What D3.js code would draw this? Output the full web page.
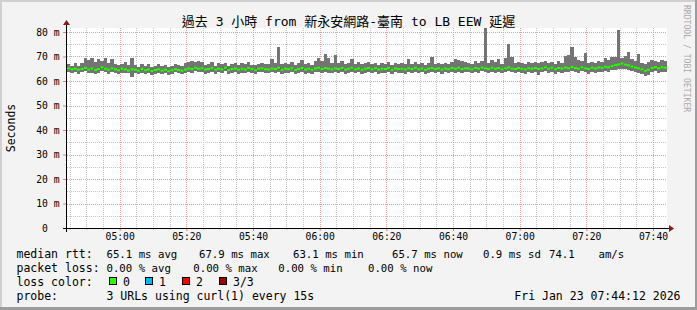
<!DOCTYPE html>
<html>
<head>
<meta charset="utf-8">
<script src="https://cdn.jsdelivr.net/npm/d3@7"></script>
<style>
body { margin: 0; background: #f3f3f3; }
svg text { font-family: "DejaVu Sans Mono", "Noto Sans CJK TC", monospace; white-space: pre; }
</style>
</head>
<body>
<div id="container"></div>
<script>
// one sample per minute, 04:44:12 -> 07:44:12
var medianRtt = [
	65.2,64.8,65.0,64.6,64.9,65.3,64.7,65.1,64.5,64.9,65.6,65.0,64.6,65.2,64.8,64.4,65.0,64.7,64.3,64.8,
	64.6,64.2,64.9,64.4,64.7,64.1,64.5,64.8,64.3,64.6,64.0,64.4,64.8,64.5,64.2,64.7,65.1,64.9,65.4,65.0,
	65.2,64.7,64.9,65.3,64.6,65.0,64.8,65.4,64.5,64.9,65.1,64.6,65.0,64.7,65.3,64.9,64.4,65.0,65.2,64.8,
	64.7,65.1,64.9,65.4,64.6,65.0,64.8,65.2,64.5,64.9,65.3,64.7,65.0,64.6,65.1,65.4,64.9,65.3,65.0,64.8,
	65.2,64.9,65.3,64.7,65.0,65.4,64.8,65.1,64.6,65.0,65.3,64.8,65.2,64.7,65.0,64.9,65.3,64.6,65.1,64.9,
	65.0,64.7,65.2,64.9,65.4,64.8,65.1,64.6,65.0,65.3,64.9,65.2,64.7,65.1,64.8,65.3,65.0,65.4,64.9,65.2,
	65.1,64.8,65.3,65.0,65.5,65.2,64.9,65.4,65.0,65.3,64.8,65.2,65.5,65.1,64.9,65.3,65.0,64.7,65.2,65.0,
	65.3,64.9,65.2,65.6,65.0,65.4,64.8,65.3,65.1,65.5,65.2,65.7,65.3,65.0,65.6,65.2,64.9,65.4,65.1,65.5,
	65.4,65.8,65.6,66.1,66.5,66.8,67.1,66.7,66.4,65.9,65.5,65.2,64.8,64.2,64.6,65.3,65.7,65.2,65.6,65.4
];
var minRtt = [
	63.6,63.2,63.8,63.0,63.5,63.9,63.1,63.4,62.9,63.3,64.0,63.5,63.0,63.6,63.2,62.8,63.4,63.1,63.3,61.8,
	63.1,62.8,63.4,62.9,63.3,62.6,63.0,63.4,62.8,63.2,62.4,63.0,63.5,63.1,62.7,63.3,63.6,63.4,63.9,63.5,
	63.7,63.0,63.4,63.8,62.9,63.5,63.2,63.9,62.8,63.3,63.6,63.0,63.4,63.1,63.8,63.4,62.7,63.5,63.7,63.2,
	63.1,63.5,63.3,63.6,62.9,63.4,63.2,63.6,62.8,63.3,63.7,63.0,63.4,62.9,63.5,63.8,63.2,63.6,63.4,63.1,
	63.6,63.3,63.7,63.0,63.4,63.8,63.2,63.5,62.9,63.4,63.7,63.1,63.6,63.0,63.4,63.3,63.7,62.9,63.5,63.3,
	63.4,63.0,63.6,63.3,63.8,63.2,63.5,62.9,63.4,63.7,63.3,63.6,63.0,63.5,63.2,63.7,63.4,63.8,63.3,63.6,
	63.5,63.2,63.7,63.4,63.9,63.6,63.3,63.8,63.4,63.7,63.1,63.6,63.9,63.5,63.2,63.7,63.4,62.8,63.6,63.3,
	63.6,62.6,63.5,63.9,63.3,63.8,62.9,63.6,63.4,63.8,63.5,63.9,63.6,63.2,63.9,63.5,62.8,63.7,63.4,63.8,
	63.7,64.0,63.8,64.3,64.6,64.9,65.1,64.8,64.4,64.0,63.6,63.3,62.7,62.0,62.6,63.5,63.9,63.4,63.8,63.6
];
var maxRtt = [
	66.8,66.2,67.5,66.0,67.2,69.2,68.4,69.5,67.8,69.0,68.2,69.3,67.5,68.8,67.0,66.5,66.9,67.8,66.4,69.4,
	66.4,65.9,66.8,66.0,67.0,65.7,66.3,66.9,66.1,66.6,65.8,66.2,67.1,66.5,66.0,67.2,67.8,68.1,67.6,68.3,
	67.9,66.6,67.0,67.6,66.3,67.3,66.8,67.4,66.2,67.1,67.5,66.5,67.2,66.9,67.8,66.7,66.4,67.0,67.3,66.9,
	66.8,69.0,67.2,74.0,66.9,67.5,67.0,67.8,66.6,67.3,68.6,66.9,67.4,66.7,68.2,69.5,68.0,71.0,69.2,67.5,
	70.5,67.4,68.0,66.9,67.5,69.0,67.0,67.6,66.8,67.2,67.9,66.9,67.5,66.7,67.3,67.0,67.8,66.6,67.4,67.1,
	67.2,66.8,69.0,67.0,67.6,66.9,67.4,66.7,67.3,70.0,67.1,67.5,66.8,67.3,67.0,67.7,69.0,68.5,68.3,67.8,
	67.5,67.0,68.2,67.4,68.0,81.5,67.3,68.4,67.6,68.8,67.0,69.2,75.0,70.0,67.2,67.8,67.4,66.9,67.6,67.2,
	67.6,67.2,67.8,68.0,67.3,67.9,67.0,68.2,67.5,70.2,70.5,74.0,70.0,68.5,68.2,71.5,67.3,67.9,67.5,68.1,
	67.8,69.2,68.5,69.8,70.0,81.0,69.5,70.2,72.0,68.9,68.0,71.0,67.4,67.0,67.6,68.5,68.2,67.9,68.6,68.3
];
var yTicks = [0, 10, 20, 30, 40, 50, 60, 70, 80];
var lossLabels = ["0", "1", "2", "3/3"];
var lossColors = ["#26ff00", "#00b8ff", "#ff0000", "#a00000"];
var rttLine = [["65.1 ms avg", 106.5], ["67.9 ms max", 199], ["63.1 ms min", 293],
	["65.7 ms now", 392], ["0.9 ms sd", 483], ["74.1", 549], ["am/s", 598.5]];
var lossLine = [["0.00 % avg", 106.5], ["0.00 % max", 193.3], ["0.00 % min", 278.3], ["0.00 % now", 368]];

var W = 697, H = 310;
var mLeft = 67, mRight = 667, mTop = 28, mBottom = 228;
var start = new Date(2026, 0, 23, 4, 44, 12);
var end = new Date(2026, 0, 23, 7, 44, 12);
var times = medianRtt.map(function(d, i) { return d3.timeMinute.offset(start, i); });

var svg = d3.select("#container").append("svg")
	.attr("width", W).attr("height", H)
	.attr("viewBox", "0 0 " + W + " " + H);

svg.append("rect").attr("width", W).attr("height", H).attr("fill", "#f3f3f3");
// frame
svg.append("rect").attr("x", 0).attr("y", 0).attr("width", W).attr("height", 2).attr("fill", "#d0d0d0");
svg.append("rect").attr("x", 0).attr("y", 0).attr("width", 2).attr("height", H).attr("fill", "#d0d0d0");
svg.append("rect").attr("x", W - 2).attr("y", 0).attr("width", 2).attr("height", H).attr("fill", "#9c9c9c");
svg.append("rect").attr("x", 0).attr("y", H - 3).attr("width", W).attr("height", 3).attr("fill", "#9c9c9c");

var x = d3.scaleTime().domain([start, end]).range([mLeft, mRight]);
var y = d3.scaleLinear().domain([0, 200 / 2.45]).range([mBottom, mTop]);

svg.append("rect").attr("x", mLeft).attr("y", mTop).attr("width", mRight - mLeft).attr("height", mBottom - mTop).attr("fill", "#fff");

// grid
var minorT = d3.timeMinute.every(5).range(start, end).filter(function(t) { return t.getMinutes() % 20 != 0; });
var majorT = d3.timeMinute.every(20).range(start, end);
var grid = svg.append("g").attr("shape-rendering", "crispEdges").attr("stroke-dasharray", "1,1");
grid.selectAll(".vmin").data(minorT).enter().append("line")
	.attr("x1", function(d) { return Math.round(x(d)) + 0.5; }).attr("x2", function(d) { return Math.round(x(d)) + 0.5; })
	.attr("y1", mTop).attr("y2", mBottom).attr("stroke", "#c4c4c4");
grid.selectAll(".hmin").data(d3.range(5, 81, 10)).enter().append("line")
	.attr("y1", function(d) { return Math.round(y(d)) + 0.5; }).attr("y2", function(d) { return Math.round(y(d)) + 0.5; })
	.attr("x1", mLeft).attr("x2", mRight).attr("stroke", "#c4c4c4");
grid.selectAll(".vmaj").data(majorT).enter().append("line")
	.attr("x1", function(d) { return Math.round(x(d)) + 0.5; }).attr("x2", function(d) { return Math.round(x(d)) + 0.5; })
	.attr("y1", mTop).attr("y2", mBottom).attr("stroke", "#f29a9a");
grid.selectAll(".hmaj").data(yTicks.slice(1)).enter().append("line")
	.attr("y1", function(d) { return Math.round(y(d)) + 0.5; }).attr("y2", function(d) { return Math.round(y(d)) + 0.5; })
	.attr("x1", mLeft).attr("x2", mRight).attr("stroke", "#f29a9a");

// smoke
svg.append("g").attr("shape-rendering", "crispEdges").selectAll("rect")
	.data(times).enter().append("rect")
	.attr("x", function(d) { return x(d); })
	.attr("width", function(d) { return x(d3.timeMinute.offset(d, 1)) - x(d); })
	.attr("y", function(d, i) { return y(maxRtt[i]); })
	.attr("height", function(d, i) { return y(minRtt[i]) - y(maxRtt[i]); })
	.attr("fill", "#747474");

// median
var pts = times.map(function(t, i) { return [x(t), y(medianRtt[i])]; });
pts.push([x(end), y(medianRtt[medianRtt.length - 1])]);
svg.append("path").attr("d", d3.line().curve(d3.curveStepAfter)(pts))
	.attr("fill", "none").attr("stroke", "#202020").attr("stroke-width", 1);
svg.append("g").selectAll("rect")
	.data(times).enter().append("rect")
	.attr("x", function(d) { return x(d); })
	.attr("width", function(d) { return x(d3.timeMinute.offset(d, 1)) - x(d); })
	.attr("y", function(d, i) { return y(medianRtt[i]) - 1; })
	.attr("height", 2)
	.attr("fill", lossColors[0]);

// axes
var xMinor = svg.append("g").attr("transform", "translate(0," + mBottom + ")")
	.call(d3.axisBottom(x).tickValues(minorT).tickSize(2).tickFormat(""));
xMinor.select(".domain").remove();
xMinor.selectAll("line").attr("stroke", "#bbb");

var xAxis = svg.append("g").attr("transform", "translate(0," + mBottom + ")")
	.call(d3.axisBottom(x).tickValues(majorT).tickSize(3).tickPadding(2).tickFormat(d3.timeFormat("%H:%M")));
xAxis.select(".domain").remove();
xAxis.selectAll("line").attr("stroke", "#e08080");
xAxis.selectAll("text").attr("font-size", 9.7).attr("fill", "#000")
	.attr("font-family", "\"DejaVu Sans Mono\", monospace");

var yAxis = svg.append("g").attr("transform", "translate(" + mLeft + ",0)")
	.call(d3.axisLeft(y).tickValues(yTicks).tickSize(4).tickPadding(3.5)
		.tickFormat(function(d) { return d === 0 ? "0  " : d + " m"; }));
yAxis.select(".domain").remove();
yAxis.selectAll("line").attr("stroke", "#e08080");
yAxis.selectAll("text").attr("font-size", 9.7).attr("fill", "#000")
	.attr("font-family", "\"DejaVu Sans Mono\", monospace");

// axis lines + arrows
svg.append("line").attr("x1", mLeft - 4).attr("x2", mRight + 3).attr("y1", mBottom + 0.5).attr("y2", mBottom + 0.5)
	.attr("stroke", "#000").attr("shape-rendering", "crispEdges");
svg.append("line").attr("x1", mLeft - 0.5).attr("x2", mLeft - 0.5).attr("y1", mBottom + 4).attr("y2", mTop - 3)
	.attr("stroke", "#000").attr("shape-rendering", "crispEdges");
svg.append("path").attr("d", "M" + (mRight + 2) + "," + (mBottom - 3) + "L" + (mRight + 7) + "," + (mBottom + 0.5) + "L" + (mRight + 2) + "," + (mBottom + 4) + "Z")
	.attr("fill", "#8b1a1a");
svg.append("path").attr("d", "M" + (mLeft - 4) + "," + (mTop - 3) + "L" + (mLeft - 0.5) + "," + (mTop - 8) + "L" + (mLeft + 3) + "," + (mTop - 3) + "Z")
	.attr("fill", "#8b1a1a");

// titles
svg.append("text").attr("x", 348.5).attr("y", 26).attr("text-anchor", "middle")
	.attr("font-size", 13).attr("fill", "#000")
	.text("過去 3 小時 from 新永安網路-臺南 to LB EEW 延遲");
svg.append("text").attr("transform", "translate(15," + ((mTop + mBottom) / 2) + ") rotate(-90)")
	.attr("text-anchor", "middle").attr("font-size", 11.5).attr("fill", "#000").text("Seconds");
svg.append("text").attr("transform", "translate(684,5) rotate(90)")
	.attr("font-size", 8.1).attr("fill", "#aaa").text("RRDTOOL / TOBI OETIKER");

// legend
var fs = 11.5, fsNum = 10.7;
var rowY = [257.8, 271.9, 286, 300.1];
svg.append("text").attr("x", 16.5).attr("y", rowY[0]).attr("font-size", fs).text("median rtt:");
svg.append("g").selectAll("text").data(rttLine).enter().append("text")
	.attr("x", function(d) { return d[1]; }).attr("y", rowY[0]).attr("font-size", fsNum).text(function(d) { return d[0]; });
svg.append("text").attr("x", 16.5).attr("y", rowY[1]).attr("font-size", fs).text("packet loss:");
svg.append("g").selectAll("text").data(lossLine).enter().append("text")
	.attr("x", function(d) { return d[1]; }).attr("y", rowY[1]).attr("font-size", fsNum).text(function(d) { return d[0]; });
svg.append("text").attr("x", 16.5).attr("y", rowY[2]).attr("font-size", fs).text("loss color:");
var boxX = [109.5, 145.5, 182.5, 219.5];
var lg = svg.append("g").selectAll("g").data(lossLabels).enter().append("g");
lg.append("rect").attr("x", function(d, i) { return boxX[i]; }).attr("y", 277.5).attr("width", 7).attr("height", 7)
	.attr("fill", function(d, i) { return lossColors[i]; }).attr("stroke", "#000");
lg.append("text").attr("x", function(d, i) { return boxX[i] + 13.5; }).attr("y", rowY[2]).attr("font-size", fs)
	.text(function(d) { return d; });
svg.append("text").attr("x", 16.5).attr("y", rowY[3]).attr("font-size", fs).text("probe:");
svg.append("text").attr("x", 106.5).attr("y", rowY[3]).attr("font-size", fs).text("3 URLs using curl(1) every 15s");
svg.append("text").attr("x", 680.5).attr("y", rowY[3]).attr("font-size", fs).attr("text-anchor", "end")
	.text("Fri Jan 23 07:44:12 2026");
</script>
</body>
</html>
